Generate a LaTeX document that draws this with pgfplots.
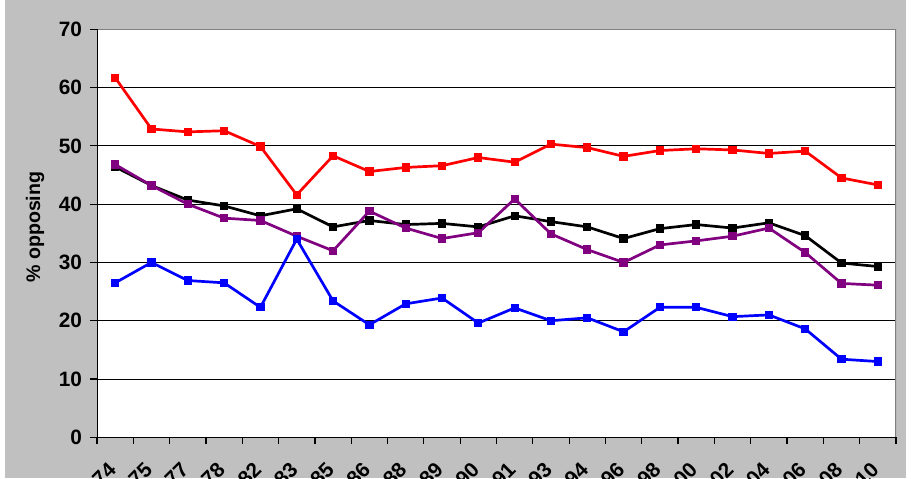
\documentclass[border=0pt]{standalone}
\usepackage{fontspec}
\setmainfont{Liberation Sans}
\usepackage{pgfplots}
\usepackage{pgfplotstable}
\pgfplotsset{compat=1.18}

\definecolor{bggray}{RGB}{192,192,192}
\definecolor{bordergray}{RGB}{128,128,128}
\definecolor{sred}{RGB}{255,0,0}
\definecolor{sblue}{RGB}{0,0,255}
\definecolor{spurple}{RGB}{128,0,128}

% columns: category index, then the four series (% opposing)
\pgfplotstableread{
x  red   black purple blue
0  61.7  46.4  46.8   26.5
1  52.9  43.2  43.2   30.0
2  52.4  40.7  40.0   26.9
3  52.6  39.7  37.6   26.5
4  49.9  38.0  37.2   22.3
5  41.6  39.2  34.5   34.0
6  48.3  36.1  32.0   23.4
7  45.6  37.2  38.8   19.3
8  46.3  36.5  35.9   22.9
9  46.6  36.7  34.1   23.9
10 48.0  36.1  35.1   19.6
11 47.2  38.0  40.9   22.2
12 50.3  37.0  34.9   20.0
13 49.7  36.1  32.2   20.5
14 48.2  34.1  30.0   18.1
15 49.2  35.8  33.0   22.3
16 49.5  36.5  33.7   22.3
17 49.3  35.9  34.5   20.7
18 48.7  36.8  35.9   21.0
19 49.1  34.6  31.7   18.6
20 44.5  29.9  26.4   13.4
21 43.3  29.3  26.1   13.0
}\opposing

\begin{document}
\begin{tikzpicture}
\useasboundingbox (0,0) rectangle (455.5pt,239pt);
\fill[white] (0,0) rectangle (455.5pt,239pt);
\fill[bggray] (2.5pt,0) rectangle (453pt,239pt);
\clip (0,0) rectangle (455.5pt,239pt);
\begin{axis}[
  at={(48.5pt,20.35pt)}, anchor=south west,
  scale only axis,
  width=399.5pt, height=204pt,
  axis background/.style={fill=white},
  axis line style={draw=none},
  font=\fontsize{10.4}{12}\selectfont\bfseries,
  /pgf/number format/assume math mode=true,
  xmin=-0.5, xmax=21.5,
  ymin=0, ymax=70,
  ytick={0,10,...,70},
  xtick={-0.5,0.5,...,21.5},
  x tick label as interval,
  xticklabels={74,75,77,78,82,83,85,86,88,89,90,91,93,94,96,98,00,02,04,06,08,10},
  xticklabel style={rotate=45, anchor=north east, inner sep=0pt, xshift=-8.5pt, yshift=-2.8pt},
  yticklabel style={anchor=east, xshift=-0.5pt},
  tick align=outside,
  tick pos=left,
  major tick length=3.5pt,
  tick style={black, line width=0.6pt},
  ymajorgrids,
  y grid style={black, line width=0.5pt},
  ylabel={\% opposing},
  ylabel style={at={(axis description cs:-0.0776,0.515)}, anchor=center, font=\fontsize{9.8}{12}\selectfont\bfseries},
  every axis plot/.append style={line width=1.35pt, mark=square*, mark size=1.4pt},
]
\addplot[black, mark options={fill=black}] table[x=x, y=black] {\opposing};
\addplot[spurple, mark options={fill=spurple}] table[x=x, y=purple] {\opposing};
\addplot[sblue, mark options={fill=sblue}] table[x=x, y=blue] {\opposing};
\addplot[sred, mark options={fill=sred}] table[x=x, y=red] {\opposing};
\draw[bordergray, line width=0.8pt] (rel axis cs:0,1) -- (rel axis cs:1,1) -- (rel axis cs:1,0);
\draw[black, line width=0.7pt] (rel axis cs:0,1) -- (rel axis cs:0,0) -- (rel axis cs:1,0);
\end{axis}
\end{tikzpicture}
\end{document}
